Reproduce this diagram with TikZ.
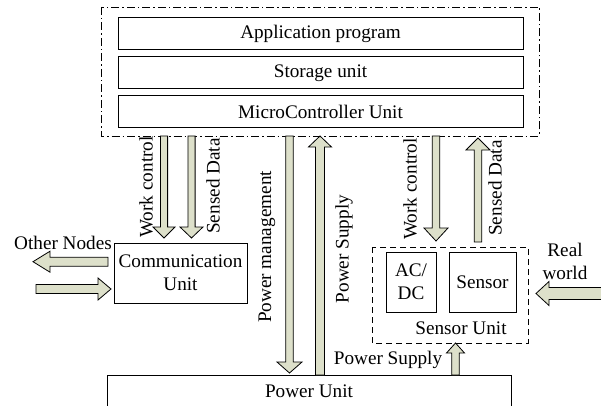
\documentclass[tikz,border=0pt]{standalone}
\usepackage{fontspec}
\setmainfont{Liberation Serif}
\newfontfamily\diagfont{Liberation Serif}
\definecolor{arrowfill}{RGB}{221,224,202}
\newcommand\varrow[6]{% x, ytail, ytip, shaft half, head half, head length
  \pgfmathsetmacro\myhb{(#3>#2)?(#3-#6):(#3+#6)}
  \draw[blockarrow] (#1-#4,#2) -- (#1-#4,\myhb) -- (#1-#5,\myhb) -- (#1,#3)
    -- (#1+#5,\myhb) -- (#1+#4,\myhb) -- (#1+#4,#2) -- cycle;}
\newcommand\harrow[6]{% y, xtail, xtip, shaft half, head half, head length
  \pgfmathsetmacro\myhb{(#3>#2)?(#3-#6):(#3+#6)}
  \draw[blockarrow] (#2,#1-#4) -- (\myhb,#1-#4) -- (\myhb,#1-#5) -- (#3,#1)
    -- (\myhb,#1+#5) -- (\myhb,#1+#4) -- (#2,#1+#4) -- cycle;}
\begin{document}
\begin{tikzpicture}[x=1pt,y=-1pt,
  every node/.style={font=\diagfont\fontsize{19.2}{23}\selectfont, inner sep=0pt},
  blockarrow/.style={draw=black, line width=0.8pt, fill=arrowfill, line join=miter},
  unitbox/.style={draw=black, line width=1pt, minimum width=405pt, minimum height=32pt},
  plainbox/.style={draw=black, line width=1pt, align=center},
  dashdot/.style={draw=black, line width=0.9pt, dash pattern=on 8pt off 3pt on 1.5pt off 3pt},
  dashbox/.style={draw=black, line width=0.9pt, dash pattern=on 6pt off 4pt}]
\useasboundingbox (0,0) rectangle (601,406);
\clip (0,0) rectangle (601,406);
\fill[white] (0,0) rectangle (601,406);

% top block
\draw[dashdot] (101,7) rectangle (539,136);
\node[unitbox] (app) at (320.5,34) {Application program};
\node[unitbox] (store) at (320.5,73) {Storage unit};
\node[unitbox] (mcu) at (320.5,112) {MicroController Unit};

% communication unit
\node[plainbox, minimum width=133pt, minimum height=60pt] (comm) at (180.5,273) {Communication\\Unit};

% sensor unit
\draw[dashbox] (372,247) rectangle (528,343);
\node[plainbox, minimum width=50pt, minimum height=60pt] (acdc) at (411,282) {AC/\\DC};
\node[plainbox, minimum width=67pt, minimum height=60pt] (sensor) at (482.5,282) {Sensor};
\node (sulabel) at (461,328) {Sensor Unit};

% power unit
\draw[line width=1pt] (107,420) -- (107,375) -- (511,375) -- (511,420);
\node (power) at (309,391) {Power Unit};

% arrows
\varrow{164}{136}{238}{3.6}{11}{11}
\varrow{191.5}{136}{238}{3.6}{11.5}{11}
\varrow{289.5}{136}{373}{3.8}{12.5}{11}
\varrow{320}{375}{136}{4.5}{11.5}{11}
\varrow{436}{136}{241}{3.8}{12}{13}
\varrow{478}{242}{138}{3.8}{12}{12}
\varrow{455.5}{375}{343}{3.8}{9}{10}
\harrow{261.7}{108}{33}{4.5}{10.5}{17}
\harrow{289}{36}{111}{4.5}{11}{13}
\harrow{293.5}{610}{536}{6}{12}{13}

% labels
\node[rotate=90] (lwc) at (146,187) {Work control};
\node[rotate=90] (lsd) at (213,186) {Sensed Data};
\node[rotate=90] (lpm) at (267,247) {Power management};
\node[rotate=90] (lps) at (344,249) {Power Supply};
\node[rotate=90] (rwc) at (410,189) {Work control};
\node[rotate=90] (rsd) at (495,188) {Sensed Data};
\node (other) at (63,243) {Other Nodes};
\node[align=center] (real) at (565,261) {Real\\world};
\node (psb) at (388,360) {Power Supply};
\end{tikzpicture}
\end{document}
